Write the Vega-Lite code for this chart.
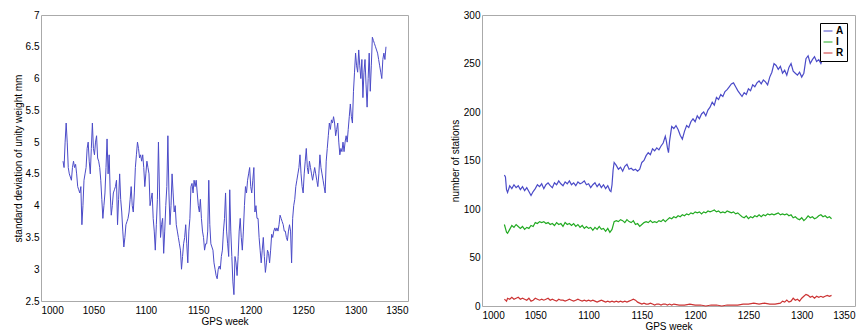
{
  "$schema": "https://vega.github.io/schema/vega-lite/v6.json",
  "padding": {"left": 12, "top": 9, "right": 0, "bottom": 0},
  "bounds": "flush",
  "spacing": 74,
  "resolve": {"scale": {"color": "independent"}, "legend": {"color": "independent"}},
  "config": {
    "font": "Liberation Sans",
    "view": {"stroke": "#aaaaaa"},
    "axis": {"grid": false, "domain": false, "ticks": false, "labelFontSize": 10, "titleFontSize": 10, "titleFontWeight": "normal", "labelColor": "#000000", "titleColor": "#000000"}
  },
  "datasets": {
    "sd": [
      {"w":1021,"v":4.7},{"w":1022,"v":4.6},{"w":1023,"v":5.0},{"w":1024,"v":5.3},{"w":1025,"v":5.0},{"w":1026,"v":4.6},{"w":1027,"v":4.5},{"w":1028,"v":4.45},{"w":1029,"v":4.4},{"w":1030,"v":4.6},
      {"w":1031,"v":4.7},{"w":1032,"v":4.6},{"w":1033,"v":4.65},{"w":1034,"v":4.5},{"w":1035,"v":4.3},{"w":1036,"v":4.25},{"w":1037,"v":4.2},{"w":1038,"v":4.3},{"w":1039,"v":3.7},{"w":1040,"v":4.0},
      {"w":1041,"v":4.4},{"w":1042,"v":4.5},{"w":1043,"v":4.6},{"w":1044,"v":4.9},{"w":1045,"v":5.0},{"w":1046,"v":4.7},{"w":1047,"v":4.5},{"w":1048,"v":4.9},{"w":1049,"v":5.3},{"w":1050,"v":4.9},
      {"w":1051,"v":4.8},{"w":1052,"v":5.0},{"w":1053,"v":5.1},{"w":1054,"v":4.75},{"w":1055,"v":4.7},{"w":1056,"v":4.6},{"w":1057,"v":4.4},{"w":1058,"v":4.1},{"w":1059,"v":3.8},{"w":1060,"v":4.0},
      {"w":1061,"v":4.2},{"w":1062,"v":4.6},{"w":1063,"v":5.05},{"w":1064,"v":4.5},{"w":1065,"v":4.8},{"w":1066,"v":4.2},{"w":1067,"v":3.85},{"w":1068,"v":4.0},{"w":1069,"v":4.2},{"w":1070,"v":4.25},
      {"w":1071,"v":4.3},{"w":1072,"v":4.4},{"w":1073,"v":3.7},{"w":1074,"v":4.1},{"w":1075,"v":4.5},{"w":1076,"v":4.1},{"w":1077,"v":3.9},{"w":1078,"v":3.6},{"w":1079,"v":3.35},{"w":1080,"v":3.5},
      {"w":1081,"v":3.7},{"w":1082,"v":3.75},{"w":1083,"v":3.8},{"w":1084,"v":3.9},{"w":1085,"v":4.1},{"w":1086,"v":4.3},{"w":1087,"v":4.0},{"w":1088,"v":3.9},{"w":1089,"v":4.2},{"w":1090,"v":4.6},
      {"w":1091,"v":4.8},{"w":1092,"v":5.0},{"w":1093,"v":4.9},{"w":1094,"v":4.75},{"w":1095,"v":4.8},{"w":1096,"v":4.7},{"w":1097,"v":4.8},{"w":1098,"v":4.6},{"w":1099,"v":4.3},{"w":1100,"v":4.5},
      {"w":1101,"v":4.7},{"w":1102,"v":4.6},{"w":1103,"v":4.5},{"w":1104,"v":4.0},{"w":1105,"v":4.1},{"w":1106,"v":4.2},{"w":1107,"v":3.8},{"w":1108,"v":3.6},{"w":1109,"v":3.3},{"w":1110,"v":3.7},
      {"w":1111,"v":4.1},{"w":1112,"v":5.0},{"w":1113,"v":4.2},{"w":1114,"v":3.5},{"w":1115,"v":3.7},{"w":1116,"v":3.8},{"w":1117,"v":3.25},{"w":1118,"v":3.6},{"w":1119,"v":4.0},{"w":1120,"v":4.3},
      {"w":1121,"v":5.1},{"w":1122,"v":4.2},{"w":1123,"v":3.7},{"w":1124,"v":4.0},{"w":1125,"v":4.5},{"w":1126,"v":4.2},{"w":1127,"v":3.9},{"w":1128,"v":4.0},{"w":1129,"v":3.7},{"w":1130,"v":3.6},
      {"w":1131,"v":3.5},{"w":1132,"v":3.4},{"w":1133,"v":3.3},{"w":1134,"v":3.0},{"w":1135,"v":3.2},{"w":1136,"v":3.4},{"w":1137,"v":3.5},{"w":1138,"v":3.7},{"w":1139,"v":3.4},{"w":1140,"v":3.1},
      {"w":1141,"v":3.6},{"w":1142,"v":3.8},{"w":1143,"v":4.3},{"w":1144,"v":4.35},{"w":1145,"v":4.2},{"w":1146,"v":4.4},{"w":1147,"v":4.3},{"w":1148,"v":4.4},{"w":1149,"v":4.2},{"w":1150,"v":4.0},
      {"w":1151,"v":3.9},{"w":1152,"v":4.1},{"w":1153,"v":3.8},{"w":1154,"v":3.6},{"w":1155,"v":3.5},{"w":1156,"v":3.3},{"w":1157,"v":3.4},{"w":1158,"v":3.4},{"w":1159,"v":3.6},{"w":1160,"v":4.4},
      {"w":1161,"v":3.7},{"w":1162,"v":3.4},{"w":1163,"v":3.35},{"w":1164,"v":3.3},{"w":1165,"v":3.1},{"w":1166,"v":3.0},{"w":1167,"v":2.9},{"w":1168,"v":2.85},{"w":1169,"v":3.0},{"w":1170,"v":3.05},
      {"w":1171,"v":3.0},{"w":1172,"v":3.2},{"w":1173,"v":3.3},{"w":1174,"v":3.6},{"w":1175,"v":3.8},{"w":1176,"v":4.2},{"w":1177,"v":3.6},{"w":1178,"v":3.4},{"w":1179,"v":3.2},{"w":1180,"v":4.25},
      {"w":1181,"v":3.6},{"w":1182,"v":3.2},{"w":1183,"v":2.8},{"w":1184,"v":2.6},{"w":1185,"v":3.2},{"w":1186,"v":3.1},{"w":1187,"v":2.9},{"w":1188,"v":3.2},{"w":1189,"v":3.6},{"w":1190,"v":3.8},
      {"w":1191,"v":3.5},{"w":1192,"v":3.3},{"w":1193,"v":3.6},{"w":1194,"v":4.0},{"w":1195,"v":4.3},{"w":1196,"v":4.2},{"w":1197,"v":4.4},{"w":1198,"v":4.5},{"w":1199,"v":4.6},{"w":1200,"v":4.3},
      {"w":1201,"v":4.2},{"w":1202,"v":4.4},{"w":1203,"v":4.6},{"w":1204,"v":3.9},{"w":1205,"v":4.0},{"w":1206,"v":3.8},{"w":1207,"v":3.8},{"w":1208,"v":3.5},{"w":1209,"v":3.3},{"w":1210,"v":3.1},
      {"w":1211,"v":3.3},{"w":1212,"v":3.5},{"w":1213,"v":3.2},{"w":1214,"v":2.95},{"w":1215,"v":3.1},{"w":1216,"v":3.3},{"w":1217,"v":3.25},{"w":1218,"v":3.1},{"w":1219,"v":3.3},{"w":1220,"v":3.55},
      {"w":1221,"v":3.5},{"w":1222,"v":3.6},{"w":1223,"v":3.65},{"w":1224,"v":3.6},{"w":1225,"v":3.65},{"w":1226,"v":3.6},{"w":1227,"v":3.7},{"w":1228,"v":3.85},{"w":1229,"v":3.8},{"w":1230,"v":3.75},
      {"w":1231,"v":3.7},{"w":1232,"v":3.6},{"w":1233,"v":3.6},{"w":1234,"v":3.5},{"w":1235,"v":3.45},{"w":1236,"v":3.6},{"w":1237,"v":3.7},{"w":1238,"v":3.6},{"w":1239,"v":3.1},{"w":1240,"v":3.8},
      {"w":1241,"v":4.0},{"w":1242,"v":4.1},{"w":1243,"v":4.3},{"w":1244,"v":4.4},{"w":1245,"v":4.5},{"w":1246,"v":4.6},{"w":1247,"v":4.8},{"w":1248,"v":4.5},{"w":1249,"v":4.3},{"w":1250,"v":4.2},
      {"w":1251,"v":4.5},{"w":1252,"v":4.7},{"w":1253,"v":4.9},{"w":1254,"v":4.6},{"w":1255,"v":4.5},{"w":1256,"v":4.7},{"w":1257,"v":4.6},{"w":1258,"v":4.5},{"w":1259,"v":4.4},{"w":1260,"v":4.5},
      {"w":1261,"v":4.6},{"w":1262,"v":4.5},{"w":1263,"v":4.4},{"w":1264,"v":4.3},{"w":1265,"v":4.5},{"w":1266,"v":4.8},{"w":1267,"v":4.6},{"w":1268,"v":4.5},{"w":1269,"v":4.4},{"w":1270,"v":4.3},
      {"w":1271,"v":4.2},{"w":1272,"v":4.7},{"w":1273,"v":4.9},{"w":1274,"v":5.1},{"w":1275,"v":5.3},{"w":1276,"v":5.2},{"w":1277,"v":5.35},{"w":1278,"v":5.3},{"w":1279,"v":5.4},{"w":1280,"v":5.3},
      {"w":1281,"v":5.1},{"w":1282,"v":5.2},{"w":1283,"v":5.3},{"w":1284,"v":5.0},{"w":1285,"v":4.8},{"w":1286,"v":4.9},{"w":1287,"v":4.85},{"w":1288,"v":5.0},{"w":1289,"v":4.85},{"w":1290,"v":5.0},
      {"w":1291,"v":5.1},{"w":1292,"v":5.0},{"w":1293,"v":5.2},{"w":1294,"v":5.4},{"w":1295,"v":5.6},{"w":1296,"v":5.4},{"w":1297,"v":5.3},{"w":1298,"v":5.8},{"w":1299,"v":6.1},{"w":1300,"v":6.4},
      {"w":1301,"v":6.2},{"w":1302,"v":6.1},{"w":1303,"v":6.45},{"w":1304,"v":6.2},{"w":1305,"v":6.0},{"w":1306,"v":6.3},{"w":1307,"v":5.7},{"w":1308,"v":6.1},{"w":1309,"v":6.3},{"w":1310,"v":5.9},
      {"w":1311,"v":5.55},{"w":1312,"v":6.0},{"w":1313,"v":6.4},{"w":1314,"v":5.8},{"w":1315,"v":6.2},{"w":1316,"v":6.65},{"w":1317,"v":6.6},{"w":1318,"v":6.55},{"w":1319,"v":6.5},{"w":1320,"v":6.45},
      {"w":1321,"v":6.4},{"w":1322,"v":6.3},{"w":1323,"v":6.2},{"w":1324,"v":6.1},{"w":1325,"v":6.0},{"w":1326,"v":6.3},{"w":1327,"v":6.4},{"w":1328,"v":6.3},{"w":1329,"v":6.5}
    ],
    "st": [
      {"w":1021,"s":"A","n":135},{"w":1022,"s":"A","n":133},{"w":1023,"s":"A","n":120},{"w":1024,"s":"A","n":117},{"w":1026,"s":"A","n":124},{"w":1028,"s":"A","n":121},{"w":1030,"s":"A","n":125},{"w":1032,"s":"A","n":122},{"w":1034,"s":"A","n":124},{"w":1036,"s":"A","n":120},
      {"w":1038,"s":"A","n":123},{"w":1040,"s":"A","n":119},{"w":1042,"s":"A","n":122},{"w":1044,"s":"A","n":118},{"w":1046,"s":"A","n":114},{"w":1048,"s":"A","n":118},{"w":1050,"s":"A","n":121},{"w":1052,"s":"A","n":125},{"w":1054,"s":"A","n":123},{"w":1056,"s":"A","n":126},
      {"w":1058,"s":"A","n":121},{"w":1060,"s":"A","n":125},{"w":1062,"s":"A","n":127},{"w":1064,"s":"A","n":124},{"w":1066,"s":"A","n":122},{"w":1068,"s":"A","n":127},{"w":1070,"s":"A","n":125},{"w":1072,"s":"A","n":129},{"w":1074,"s":"A","n":126},{"w":1076,"s":"A","n":124},
      {"w":1078,"s":"A","n":128},{"w":1080,"s":"A","n":126},{"w":1082,"s":"A","n":129},{"w":1084,"s":"A","n":125},{"w":1086,"s":"A","n":127},{"w":1088,"s":"A","n":124},{"w":1090,"s":"A","n":128},{"w":1092,"s":"A","n":126},{"w":1094,"s":"A","n":127},{"w":1096,"s":"A","n":129},
      {"w":1098,"s":"A","n":125},{"w":1100,"s":"A","n":126},{"w":1102,"s":"A","n":122},{"w":1104,"s":"A","n":125},{"w":1106,"s":"A","n":127},{"w":1108,"s":"A","n":123},{"w":1110,"s":"A","n":126},{"w":1112,"s":"A","n":122},{"w":1114,"s":"A","n":125},{"w":1116,"s":"A","n":121},
      {"w":1118,"s":"A","n":124},{"w":1120,"s":"A","n":119},{"w":1121,"s":"A","n":118},{"w":1122,"s":"A","n":125},{"w":1123,"s":"A","n":140},{"w":1124,"s":"A","n":148},{"w":1126,"s":"A","n":145},{"w":1128,"s":"A","n":141},{"w":1130,"s":"A","n":143},{"w":1132,"s":"A","n":139},
      {"w":1134,"s":"A","n":144},{"w":1136,"s":"A","n":146},{"w":1138,"s":"A","n":141},{"w":1140,"s":"A","n":142},{"w":1142,"s":"A","n":140},{"w":1144,"s":"A","n":141},{"w":1146,"s":"A","n":139},{"w":1148,"s":"A","n":141},{"w":1150,"s":"A","n":148},{"w":1152,"s":"A","n":150},
      {"w":1154,"s":"A","n":155},{"w":1156,"s":"A","n":158},{"w":1158,"s":"A","n":156},{"w":1160,"s":"A","n":162},{"w":1162,"s":"A","n":160},{"w":1164,"s":"A","n":163},{"w":1166,"s":"A","n":161},{"w":1168,"s":"A","n":165},{"w":1170,"s":"A","n":168},{"w":1172,"s":"A","n":175},
      {"w":1173,"s":"A","n":170},{"w":1174,"s":"A","n":163},{"w":1175,"s":"A","n":158},{"w":1176,"s":"A","n":170},{"w":1178,"s":"A","n":185},{"w":1180,"s":"A","n":183},{"w":1182,"s":"A","n":186},{"w":1184,"s":"A","n":182},{"w":1186,"s":"A","n":176},{"w":1188,"s":"A","n":172},
      {"w":1190,"s":"A","n":180},{"w":1192,"s":"A","n":186},{"w":1194,"s":"A","n":184},{"w":1196,"s":"A","n":190},{"w":1198,"s":"A","n":193},{"w":1200,"s":"A","n":190},{"w":1202,"s":"A","n":196},{"w":1204,"s":"A","n":193},{"w":1206,"s":"A","n":198},{"w":1208,"s":"A","n":200},
      {"w":1210,"s":"A","n":196},{"w":1212,"s":"A","n":202},{"w":1214,"s":"A","n":205},{"w":1216,"s":"A","n":210},{"w":1218,"s":"A","n":207},{"w":1220,"s":"A","n":215},{"w":1222,"s":"A","n":213},{"w":1224,"s":"A","n":218},{"w":1226,"s":"A","n":216},{"w":1228,"s":"A","n":221},
      {"w":1230,"s":"A","n":223},{"w":1232,"s":"A","n":226},{"w":1234,"s":"A","n":229},{"w":1236,"s":"A","n":230},{"w":1238,"s":"A","n":226},{"w":1240,"s":"A","n":222},{"w":1242,"s":"A","n":219},{"w":1244,"s":"A","n":216},{"w":1246,"s":"A","n":220},{"w":1248,"s":"A","n":218},
      {"w":1250,"s":"A","n":224},{"w":1252,"s":"A","n":222},{"w":1254,"s":"A","n":228},{"w":1256,"s":"A","n":226},{"w":1258,"s":"A","n":230},{"w":1260,"s":"A","n":232},{"w":1262,"s":"A","n":229},{"w":1264,"s":"A","n":233},{"w":1266,"s":"A","n":231},{"w":1268,"s":"A","n":228},
      {"w":1270,"s":"A","n":236},{"w":1272,"s":"A","n":241},{"w":1274,"s":"A","n":250},{"w":1276,"s":"A","n":248},{"w":1278,"s":"A","n":244},{"w":1280,"s":"A","n":247},{"w":1282,"s":"A","n":240},{"w":1284,"s":"A","n":243},{"w":1286,"s":"A","n":238},{"w":1288,"s":"A","n":246},
      {"w":1290,"s":"A","n":250},{"w":1292,"s":"A","n":242},{"w":1294,"s":"A","n":240},{"w":1296,"s":"A","n":238},{"w":1298,"s":"A","n":241},{"w":1300,"s":"A","n":236},{"w":1302,"s":"A","n":240},{"w":1304,"s":"A","n":255},{"w":1306,"s":"A","n":258},{"w":1308,"s":"A","n":250},
      {"w":1310,"s":"A","n":254},{"w":1312,"s":"A","n":257},{"w":1314,"s":"A","n":252},{"w":1316,"s":"A","n":254},{"w":1318,"s":"A","n":250},{"w":1320,"s":"A","n":256},{"w":1322,"s":"A","n":253},{"w":1324,"s":"A","n":255},{"w":1326,"s":"A","n":254},{"w":1328,"s":"A","n":256},

      {"w":1021,"s":"I","n":84},{"w":1022,"s":"I","n":80},{"w":1023,"s":"I","n":76},{"w":1024,"s":"I","n":75},{"w":1026,"s":"I","n":79},{"w":1028,"s":"I","n":83},{"w":1030,"s":"I","n":81},{"w":1032,"s":"I","n":84},{"w":1034,"s":"I","n":82},{"w":1036,"s":"I","n":80},
      {"w":1038,"s":"I","n":82},{"w":1040,"s":"I","n":79},{"w":1042,"s":"I","n":81},{"w":1044,"s":"I","n":80},{"w":1046,"s":"I","n":83},{"w":1048,"s":"I","n":82},{"w":1050,"s":"I","n":86},{"w":1052,"s":"I","n":85},{"w":1054,"s":"I","n":87},{"w":1056,"s":"I","n":86},
      {"w":1058,"s":"I","n":87},{"w":1060,"s":"I","n":85},{"w":1062,"s":"I","n":86},{"w":1064,"s":"I","n":84},{"w":1066,"s":"I","n":85},{"w":1068,"s":"I","n":83},{"w":1070,"s":"I","n":86},{"w":1072,"s":"I","n":84},{"w":1074,"s":"I","n":85},{"w":1076,"s":"I","n":82},
      {"w":1078,"s":"I","n":86},{"w":1080,"s":"I","n":84},{"w":1082,"s":"I","n":85},{"w":1084,"s":"I","n":83},{"w":1086,"s":"I","n":85},{"w":1088,"s":"I","n":82},{"w":1090,"s":"I","n":84},{"w":1092,"s":"I","n":81},{"w":1094,"s":"I","n":83},{"w":1096,"s":"I","n":80},
      {"w":1098,"s":"I","n":82},{"w":1100,"s":"I","n":80},{"w":1102,"s":"I","n":81},{"w":1104,"s":"I","n":78},{"w":1106,"s":"I","n":81},{"w":1108,"s":"I","n":79},{"w":1110,"s":"I","n":82},{"w":1112,"s":"I","n":79},{"w":1114,"s":"I","n":80},{"w":1116,"s":"I","n":77},
      {"w":1118,"s":"I","n":80},{"w":1120,"s":"I","n":76},{"w":1122,"s":"I","n":79},{"w":1124,"s":"I","n":87},{"w":1126,"s":"I","n":88},{"w":1128,"s":"I","n":87},{"w":1130,"s":"I","n":89},{"w":1132,"s":"I","n":88},{"w":1134,"s":"I","n":86},{"w":1136,"s":"I","n":89},
      {"w":1138,"s":"I","n":87},{"w":1140,"s":"I","n":86},{"w":1142,"s":"I","n":88},{"w":1144,"s":"I","n":84},{"w":1146,"s":"I","n":85},{"w":1148,"s":"I","n":82},{"w":1150,"s":"I","n":84},{"w":1152,"s":"I","n":86},{"w":1154,"s":"I","n":87},{"w":1156,"s":"I","n":86},
      {"w":1158,"s":"I","n":88},{"w":1160,"s":"I","n":86},{"w":1162,"s":"I","n":87},{"w":1164,"s":"I","n":86},{"w":1166,"s":"I","n":88},{"w":1168,"s":"I","n":87},{"w":1170,"s":"I","n":89},{"w":1172,"s":"I","n":87},{"w":1174,"s":"I","n":89},{"w":1176,"s":"I","n":91},
      {"w":1178,"s":"I","n":90},{"w":1180,"s":"I","n":92},{"w":1182,"s":"I","n":91},{"w":1184,"s":"I","n":93},{"w":1186,"s":"I","n":92},{"w":1188,"s":"I","n":94},{"w":1190,"s":"I","n":93},{"w":1192,"s":"I","n":95},{"w":1194,"s":"I","n":94},{"w":1196,"s":"I","n":96},
      {"w":1198,"s":"I","n":95},{"w":1200,"s":"I","n":97},{"w":1202,"s":"I","n":96},{"w":1204,"s":"I","n":97},{"w":1206,"s":"I","n":95},{"w":1208,"s":"I","n":97},{"w":1210,"s":"I","n":96},{"w":1212,"s":"I","n":98},{"w":1214,"s":"I","n":97},{"w":1216,"s":"I","n":98},
      {"w":1218,"s":"I","n":99},{"w":1220,"s":"I","n":97},{"w":1222,"s":"I","n":98},{"w":1224,"s":"I","n":96},{"w":1226,"s":"I","n":97},{"w":1228,"s":"I","n":96},{"w":1230,"s":"I","n":98},{"w":1232,"s":"I","n":97},{"w":1234,"s":"I","n":96},{"w":1236,"s":"I","n":97},
      {"w":1238,"s":"I","n":95},{"w":1240,"s":"I","n":96},{"w":1242,"s":"I","n":94},{"w":1244,"s":"I","n":92},{"w":1246,"s":"I","n":91},{"w":1248,"s":"I","n":93},{"w":1250,"s":"I","n":90},{"w":1252,"s":"I","n":92},{"w":1254,"s":"I","n":91},{"w":1256,"s":"I","n":93},
      {"w":1258,"s":"I","n":92},{"w":1260,"s":"I","n":94},{"w":1262,"s":"I","n":92},{"w":1264,"s":"I","n":94},{"w":1266,"s":"I","n":93},{"w":1268,"s":"I","n":95},{"w":1270,"s":"I","n":94},{"w":1272,"s":"I","n":95},{"w":1274,"s":"I","n":94},{"w":1276,"s":"I","n":95},
      {"w":1278,"s":"I","n":96},{"w":1280,"s":"I","n":94},{"w":1282,"s":"I","n":95},{"w":1284,"s":"I","n":94},{"w":1286,"s":"I","n":95},{"w":1288,"s":"I","n":93},{"w":1290,"s":"I","n":94},{"w":1292,"s":"I","n":91},{"w":1294,"s":"I","n":92},{"w":1296,"s":"I","n":90},
      {"w":1298,"s":"I","n":89},{"w":1300,"s":"I","n":91},{"w":1302,"s":"I","n":88},{"w":1304,"s":"I","n":90},{"w":1306,"s":"I","n":93},{"w":1308,"s":"I","n":91},{"w":1310,"s":"I","n":92},{"w":1312,"s":"I","n":90},{"w":1314,"s":"I","n":91},{"w":1316,"s":"I","n":93},
      {"w":1318,"s":"I","n":94},{"w":1320,"s":"I","n":92},{"w":1322,"s":"I","n":93},{"w":1324,"s":"I","n":91},{"w":1326,"s":"I","n":92},{"w":1328,"s":"I","n":90},

      {"w":1021,"s":"R","n":7},{"w":1022,"s":"R","n":6},{"w":1023,"s":"R","n":5},{"w":1024,"s":"R","n":8},{"w":1026,"s":"R","n":7},{"w":1028,"s":"R","n":9},{"w":1030,"s":"R","n":7},{"w":1032,"s":"R","n":8},{"w":1034,"s":"R","n":9},{"w":1036,"s":"R","n":7},
      {"w":1038,"s":"R","n":8},{"w":1040,"s":"R","n":7},{"w":1042,"s":"R","n":6},{"w":1044,"s":"R","n":8},{"w":1046,"s":"R","n":5},{"w":1048,"s":"R","n":6},{"w":1050,"s":"R","n":8},{"w":1052,"s":"R","n":7},{"w":1054,"s":"R","n":6},{"w":1056,"s":"R","n":7},
      {"w":1058,"s":"R","n":6},{"w":1060,"s":"R","n":7},{"w":1062,"s":"R","n":8},{"w":1064,"s":"R","n":6},{"w":1066,"s":"R","n":7},{"w":1068,"s":"R","n":6},{"w":1070,"s":"R","n":5},{"w":1072,"s":"R","n":7},{"w":1074,"s":"R","n":6},{"w":1076,"s":"R","n":6},
      {"w":1078,"s":"R","n":5},{"w":1080,"s":"R","n":6},{"w":1082,"s":"R","n":7},{"w":1084,"s":"R","n":6},{"w":1086,"s":"R","n":5},{"w":1088,"s":"R","n":6},{"w":1090,"s":"R","n":7},{"w":1092,"s":"R","n":6},{"w":1094,"s":"R","n":5},{"w":1096,"s":"R","n":6},
      {"w":1098,"s":"R","n":5},{"w":1100,"s":"R","n":6},{"w":1102,"s":"R","n":5},{"w":1104,"s":"R","n":6},{"w":1106,"s":"R","n":5},{"w":1108,"s":"R","n":4},{"w":1110,"s":"R","n":5},{"w":1112,"s":"R","n":6},{"w":1114,"s":"R","n":5},{"w":1116,"s":"R","n":4},
      {"w":1118,"s":"R","n":5},{"w":1120,"s":"R","n":4},{"w":1122,"s":"R","n":5},{"w":1124,"s":"R","n":4},{"w":1126,"s":"R","n":5},{"w":1128,"s":"R","n":4},{"w":1130,"s":"R","n":5},{"w":1132,"s":"R","n":4},{"w":1134,"s":"R","n":5},{"w":1136,"s":"R","n":4},
      {"w":1138,"s":"R","n":5},{"w":1140,"s":"R","n":6},{"w":1142,"s":"R","n":7},{"w":1144,"s":"R","n":6},{"w":1146,"s":"R","n":4},{"w":1148,"s":"R","n":3},{"w":1150,"s":"R","n":2},{"w":1152,"s":"R","n":3},{"w":1154,"s":"R","n":2},{"w":1156,"s":"R","n":2},
      {"w":1158,"s":"R","n":3},{"w":1160,"s":"R","n":2},{"w":1162,"s":"R","n":1},{"w":1164,"s":"R","n":2},{"w":1166,"s":"R","n":2},{"w":1168,"s":"R","n":1},{"w":1170,"s":"R","n":2},{"w":1172,"s":"R","n":2},{"w":1174,"s":"R","n":1},{"w":1176,"s":"R","n":2},
      {"w":1178,"s":"R","n":1},{"w":1180,"s":"R","n":2},{"w":1185,"s":"R","n":1},{"w":1190,"s":"R","n":1},{"w":1195,"s":"R","n":2},{"w":1200,"s":"R","n":1},{"w":1205,"s":"R","n":1},{"w":1210,"s":"R","n":0},{"w":1215,"s":"R","n":1},{"w":1220,"s":"R","n":1},
      {"w":1225,"s":"R","n":0},{"w":1230,"s":"R","n":1},{"w":1235,"s":"R","n":1},{"w":1240,"s":"R","n":1},{"w":1245,"s":"R","n":2},{"w":1250,"s":"R","n":2},{"w":1255,"s":"R","n":3},{"w":1260,"s":"R","n":2},{"w":1265,"s":"R","n":3},{"w":1270,"s":"R","n":2},
      {"w":1275,"s":"R","n":2},{"w":1280,"s":"R","n":3},{"w":1282,"s":"R","n":5},{"w":1284,"s":"R","n":4},{"w":1286,"s":"R","n":6},{"w":1288,"s":"R","n":4},{"w":1290,"s":"R","n":5},{"w":1292,"s":"R","n":8},{"w":1294,"s":"R","n":6},{"w":1296,"s":"R","n":7},
      {"w":1298,"s":"R","n":5},{"w":1300,"s":"R","n":8},{"w":1302,"s":"R","n":10},{"w":1304,"s":"R","n":12},{"w":1306,"s":"R","n":11},{"w":1308,"s":"R","n":9},{"w":1310,"s":"R","n":10},{"w":1312,"s":"R","n":8},{"w":1314,"s":"R","n":10},{"w":1316,"s":"R","n":9},
      {"w":1318,"s":"R","n":10},{"w":1320,"s":"R","n":9},{"w":1322,"s":"R","n":10},{"w":1324,"s":"R","n":11},{"w":1326,"s":"R","n":10},{"w":1328,"s":"R","n":11}
    ]
  },
  "hconcat": [
    {
      "width": 367,
      "height": 286,
      "data": {"name": "sd"},
      "mark": {"type": "line", "color": "#4b4bc8", "strokeWidth": 1},
      "encoding": {
        "x": {"field": "w", "type": "quantitative", "scale": {"domain": [1000, 1350]},
          "axis": {"values": [1000, 1050, 1100, 1150, 1200, 1250, 1300, 1350], "format": "d", "title": "GPS week", "labelPadding": 4, "titlePadding": 1}},
        "y": {"field": "v", "type": "quantitative", "scale": {"domain": [2.5, 7]},
          "axis": {"values": [2.5, 3, 3.5, 4, 4.5, 5, 5.5, 6, 6.5, 7], "format": "~g", "title": "standard deviation of unity weight mm", "labelPadding": 2, "minExtent": 16, "maxExtent": 16, "titlePadding": 2}}
      }
    },
    {
      "width": 373,
      "height": 291,
      "data": {"name": "st"},
      "mark": {"type": "line", "strokeWidth": 1.2},
      "encoding": {
        "x": {"field": "w", "type": "quantitative", "scale": {"domain": [1000, 1350]},
          "axis": {"values": [1000, 1050, 1100, 1150, 1200, 1250, 1300, 1350], "format": "d", "title": "GPS week", "labelPadding": 4, "titlePadding": 1}},
        "y": {"field": "n", "type": "quantitative", "scale": {"domain": [0, 300]},
          "axis": {"values": [0, 50, 100, 150, 200, 250, 300], "format": "d", "title": "number of stations", "labelPadding": 2, "minExtent": 20, "maxExtent": 20, "titlePadding": 2}},
        "color": {"field": "s", "type": "nominal",
          "scale": {"domain": ["A", "I", "R"], "range": ["#4b4bc8", "#22aa22", "#cc3333"]},
          "legend": {"orient": "top-right", "title": null, "offset": 8, "strokeColor": "#000000", "fillColor": "#ffffff", "padding": 3, "symbolType": "stroke", "symbolSize": 80, "symbolStrokeWidth": 1, "labelFontWeight": "bold", "labelFontSize": 10, "rowPadding": 1, "labelOffset": 3}}
      }
    }
  ]
}
